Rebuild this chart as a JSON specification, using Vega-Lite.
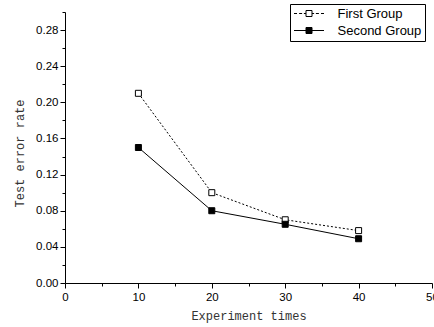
{
  "$schema": "https://vega.github.io/schema/vega-lite/v6.json",
  "width": 367,
  "height": 271,
  "autosize": {"type": "none"},
  "padding": {"left": 65, "top": 12, "right": 2, "bottom": 44},
  "background": "white",
  "config": {
    "view": {"stroke": null},
    "axis": {
      "grid": false,
      "domainColor": "black",
      "tickColor": "black",
      "labelColor": "black",
      "labelFont": "Liberation Sans",
      "labelFontSize": 11.5,
      "titleFont": "Liberation Mono",
      "titleFontSize": 12,
      "titleFontWeight": "normal",
      "titleColor": "#333333",
      "domainWidth": 1,
      "tickWidth": 1
    }
  },
  "data": {
    "values": [
      {"x": 10, "value": 0.21, "group": "First Group"},
      {"x": 20, "value": 0.10, "group": "First Group"},
      {"x": 30, "value": 0.07, "group": "First Group"},
      {"x": 40, "value": 0.058, "group": "First Group"},
      {"x": 10, "value": 0.15, "group": "Second Group"},
      {"x": 20, "value": 0.08, "group": "Second Group"},
      {"x": 30, "value": 0.065, "group": "Second Group"},
      {"x": 40, "value": 0.049, "group": "Second Group"}
    ]
  },
  "resolve": {"axis": {"x": "independent", "y": "independent"}},
  "layer": [
    {
      "mark": {"type": "point", "filled": false, "size": 36, "stroke": "black", "strokeWidth": 1, "opacity": 0},
      "encoding": {
        "x": {
          "field": "x", "type": "quantitative",
          "scale": {"domain": [0, 50], "nice": false},
          "axis": {
            "orient": "bottom",
            "values": [0, 10, 20, 30, 40, 50],
            "format": "d",
            "tickSize": 5,
            "labelPadding": 3,
            "labelFlush": false,
            "labelOverlap": false,
            "title": "Experiment times",
            "titlePadding": 8
          }
        },
        "y": {
          "field": "value", "type": "quantitative",
          "scale": {"domain": [0, 0.3], "nice": false},
          "axis": {
            "orient": "left",
            "values": [0, 0.04, 0.08, 0.12, 0.16, 0.2, 0.24, 0.28],
            "format": ".2f",
            "tickSize": 5,
            "labelPadding": 2,
            "labelFlush": false,
            "labelOverlap": false,
            "title": "Test error rate",
            "titleY": 141,
            "titlePadding": 9
          }
        },
        "shape": {
          "field": "group", "type": "nominal",
          "scale": {
            "domain": ["First Group", "Second Group"],
            "range": [
              "M-5,0H-4M-3.3,0H-2.3M-1.7,0H-1M-1,-1H1V1H-1ZM1,0H1.7M2.3,0H3.3M4,0H5",
              "M-5,0H-1M-1,-1H1V1H-1ZM1,0H5M-1,-0.67H1M-1,-0.33H1M-1,0H1M-1,0.33H1M-1,0.67H1"
            ]
          },
          "legend": {
            "orient": "none", "legendX": 225, "legendY": -8, "title": null,
            "strokeColor": "black", "fillColor": "white", "padding": 3, "rowPadding": 3,
            "symbolOffset": 9.5, "labelOffset": 22, "labelFont": "Liberation Sans", "labelFontSize": 13,
            "labelColor": "black", "labelLimit": 200, "symbolSize": 36, "symbolStrokeWidth": 1,
            "symbolStrokeColor": "black", "symbolFillColor": "white", "symbolOpacity": 1
          }
        }
      }
    },
    {
      "transform": [{"filter": "datum.group === 'First Group'"}],
      "mark": {"type": "line", "color": "black", "strokeWidth": 1, "strokeDash": [2, 2]},
      "encoding": {
        "x": {"field": "x", "type": "quantitative",
          "axis": {"orient": "bottom", "values": [5, 15, 25, 35, 45], "tickSize": 3, "labels": false, "domain": false, "title": null}},
        "y": {"field": "value", "type": "quantitative",
          "axis": {"orient": "left", "values": [0.02, 0.06, 0.1, 0.14, 0.18, 0.22, 0.26, 0.3], "tickSize": 3, "labels": false, "domain": false, "title": null}}
      }
    },
    {
      "transform": [{"filter": "datum.group === 'Second Group'"}],
      "mark": {"type": "line", "color": "black", "strokeWidth": 1},
      "encoding": {
        "x": {"field": "x", "type": "quantitative", "axis": null},
        "y": {"field": "value", "type": "quantitative", "axis": null}
      }
    },
    {
      "transform": [{"filter": "datum.group === 'First Group'"}],
      "mark": {"type": "square", "size": 36, "fill": "white", "stroke": "black", "strokeWidth": 1, "opacity": 1},
      "encoding": {
        "x": {"field": "x", "type": "quantitative", "axis": null},
        "y": {"field": "value", "type": "quantitative", "axis": null}
      }
    },
    {
      "transform": [{"filter": "datum.group === 'Second Group'"}],
      "mark": {"type": "square", "size": 36, "fill": "black", "stroke": "black", "strokeWidth": 1, "opacity": 1},
      "encoding": {
        "x": {"field": "x", "type": "quantitative", "axis": null},
        "y": {"field": "value", "type": "quantitative", "axis": null}
      }
    }
  ]
}
